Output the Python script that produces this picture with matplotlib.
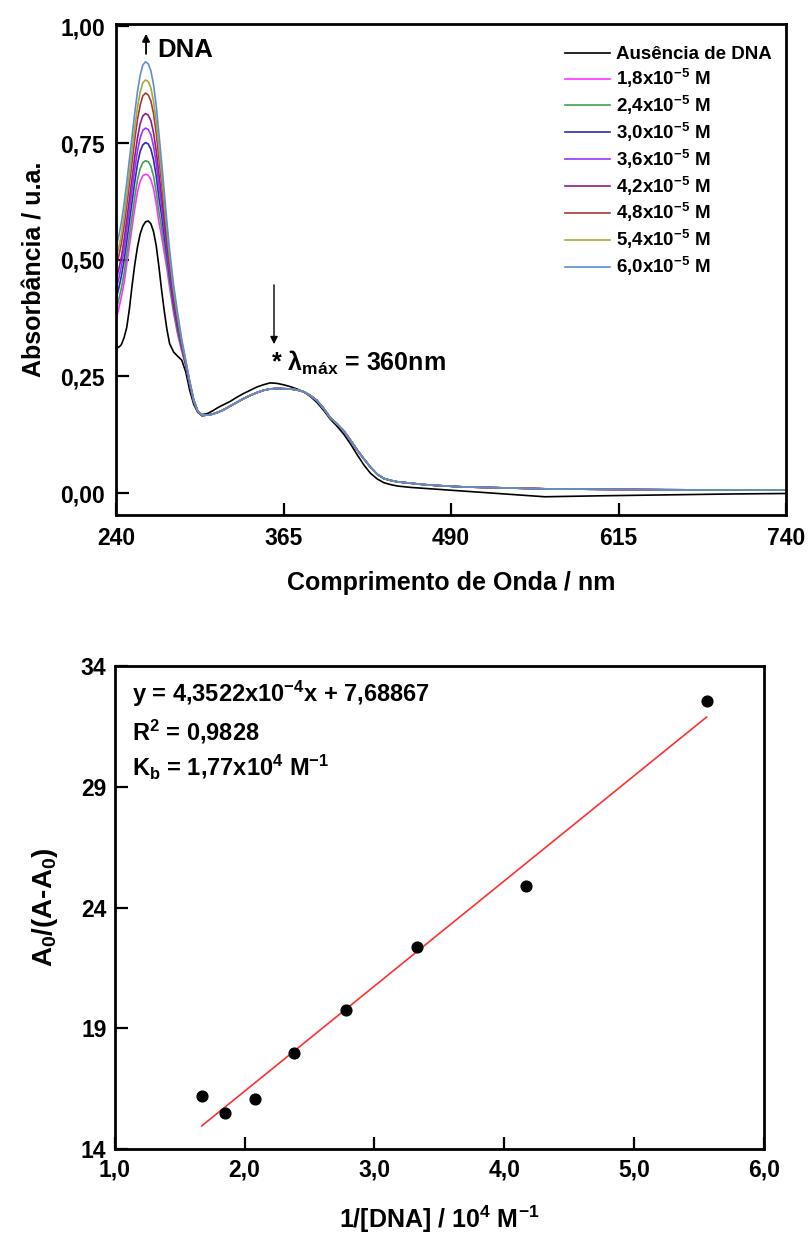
import matplotlib
matplotlib.use("Agg")
import matplotlib.pyplot as plt

plt.rcParams['font.family'] = ['Liberation Sans', 'DejaVu Sans']
plt.rcParams['font.weight'] = 'bold'
plt.rcParams['mathtext.fontset'] = 'custom'
plt.rcParams['mathtext.rm'] = 'Liberation Sans:bold'
plt.rcParams['mathtext.it'] = 'Liberation Sans:bold'
plt.rcParams['mathtext.bf'] = 'Liberation Sans:bold'
plt.rcParams['mathtext.default'] = 'regular'

# ---------------- UV-Vis titration spectra ----------------
wl_uv = [240, 242, 244, 246, 248, 250, 252, 254, 256, 258, 260, 262, 264, 266,
         268, 270, 272, 274, 276, 278, 280, 283, 286, 289, 292, 295, 298, 301, 304]
wl_vis = [308, 312, 316, 320, 325, 330, 335, 340, 345, 350, 355, 360, 365, 370,
          375, 380, 385, 390, 395, 400, 405, 410, 415, 420, 425, 430, 435, 440,
          445, 450, 460, 470, 480, 500, 530, 560, 600, 650, 700, 740]

abs_free_uv = [.316, .312, .318, .333, .355, .395, .445, .490, .527, .555, .572, .581,
               .583, .577, .560, .530, .485, .435, .390, .350, .320, .302, .293, .285,
               .260, .220, .190, .173, .168]
abs_free_vis = [.170, .176, .183, .189, .196, .205, .213, .220, .227, .232, .236, .235,
                .232, .228, .223, .217, .207, .194, .177, .158, .143, .126, .105, .082,
                .060, .042, .030, .022, .018, .015, .012, .010, .008, .004, -.002,
                -.008, -.006, -.004, -.002, -.001]

abs_18_uv = [.371, .395, .420, .450, .490, .530, .570, .610, .645, .668, .680, .683,
             .681, .672, .652, .620, .580, .550, .515, .480, .440, .385, .340, .305,
             .272, .232, .196, .174, .166]
abs_24_uv = [.390, .414, .439, .470, .511, .552, .593, .635, .671, .695, .708, .712,
             .710, .700, .679, .645, .603, .569, .531, .492, .450, .392, .345, .308,
             .274, .233, .196, .174, .166]
abs_30_uv = [.415, .438, .465, .498, .539, .582, .625, .667, .705, .732, .746, .751,
             .748, .737, .714, .679, .633, .595, .551, .508, .462, .402, .353, .312,
             .276, .234, .197, .175, .166]
abs_36_uv = [.436, .459, .486, .520, .562, .606, .650, .694, .733, .761, .777, .782,
             .779, .768, .743, .706, .658, .616, .568, .521, .473, .410, .359, .315,
             .277, .235, .198, .175, .166]
abs_42_uv = [.456, .479, .506, .542, .585, .630, .675, .721, .761, .791, .808, .813,
             .810, .798, .772, .733, .683, .636, .585, .534, .483, .417, .364, .319,
             .279, .236, .198, .175, .166]
abs_48_uv = [.485, .507, .535, .572, .616, .663, .710, .758, .800, .831, .851, .857,
             .853, .840, .813, .771, .717, .665, .609, .552, .498, .428, .372, .323,
             .281, .238, .199, .175, .167]
abs_54_uv = [.504, .525, .554, .593, .637, .685, .734, .782, .826, .859, .879, .885,
             .882, .868, .839, .796, .740, .684, .624, .564, .507, .435, .378, .326,
             .283, .239, .199, .176, .167]
abs_60_uv = [.529, .550, .580, .620, .665, .715, .765, .815, .860, .895, .917, .924,
             .920, .905, .875, .830, .770, .710, .645, .580, .520, .445, .385, .330,
             .285, .240, .200, .176, .167]
# above 305 nm the DNA-containing spectra coincide
abs_dna_vis = [.167, .169, .173, .178, .186, .194, .202, .209, .215, .220, .223, .224,
               .2235, .223, .221, .217, .209, .198, .181, .161, .148, .133, .113, .092,
               .073, .055, .040, .031, .027, .024, .021, .018, .016, .013, .011,
               .009, .008, .007, .0065, .0065]

series_labels = ['Ausência de DNA', '1,8x10$^{-5}$ M', '2,4x10$^{-5}$ M',
                 '3,0x10$^{-5}$ M', '3,6x10$^{-5}$ M', '4,2x10$^{-5}$ M',
                 '4,8x10$^{-5}$ M', '5,4x10$^{-5}$ M', '6,0x10$^{-5}$ M']
series_colors = ['#000000', '#ff33ff', '#3fa34d', '#2a2ab8', '#9a33ff',
                 '#8f1a8f', '#a63a3a', '#a8a83a', '#5a8fd0']
uv_sets = [abs_free_uv, abs_18_uv, abs_24_uv, abs_30_uv, abs_36_uv,
           abs_42_uv, abs_48_uv, abs_54_uv, abs_60_uv]
vis_sets = [abs_free_vis] + [abs_dna_vis] * 8

# ---------------- binding plot ----------------
inv_dna = [5.56, 4.17, 3.33, 2.78, 2.38, 2.08, 1.85, 1.67]      # 10^4 M^-1
a0_ratio = [32.56, 24.89, 22.36, 19.75, 17.99, 16.07, 15.50, 16.21]
fit_slope = 4.3522e-4      # per M^-1
fit_intercept = 7.68867

fig = plt.figure(figsize=(8.08, 12.37), dpi=100)

# ---- top panel ----
ax1 = fig.add_axes([0.1436, 0.5837, 0.8292, 0.3969])
for uv, vis, lab, col in zip(uv_sets, vis_sets, series_labels, series_colors):
    ax1.plot(wl_uv + wl_vis, uv + vis, color=col, lw=1.2, label=lab)

ax1.set_xlim(240, 740)
ax1.set_ylim(-0.047, 1.005)
ax1.set_xticks([240, 365, 490, 615, 740])
ax1.set_xticklabels(['240', '365', '490', '615', '740'])
ax1.set_yticks([0, 0.25, 0.5, 0.75, 1.0])
ax1.set_yticklabels(['0,00', '0,25', '0,50', '0,75', '1,00'])
ax1.tick_params(direction='in', length=9, width=1.6)
ax1.tick_params(axis='y', pad=8, labelsize=16.5)
ax1.tick_params(axis='x', pad=9, labelsize=16.5)
for s in ax1.spines.values():
    s.set_linewidth(2)
ax1.set_xlabel('Comprimento de Onda / nm', fontsize=18, fontweight='bold',
               labelpad=15)
ax1.set_ylabel('Absorbância / u.a.', fontsize=18, fontweight='bold', labelpad=10)

leg = ax1.legend(loc='upper right', bbox_to_anchor=(0.992, 0.974), frameon=False,
                 fontsize=13.5, handlelength=2.35, handletextpad=0.32,
                 labelspacing=0.2, borderpad=0)

ax1.annotate('', xy=(262.4, 0.99), xytext=(262.4, 0.935),
             arrowprops=dict(arrowstyle='-|>', color='black', lw=1.3,
                             mutation_scale=11))
ax1.text(271.0, 0.934, 'DNA', fontsize=18.5, fontweight='bold', va='baseline')
ax1.annotate('', xy=(357.9, 0.313), xytext=(357.9, 0.452),
             arrowprops=dict(arrowstyle='-|>', color='black', lw=1.0,
                             mutation_scale=11))
ax1.text(355.5, 0.262, '* λ$_{máx}$ = 360nm', fontsize=18, fontweight='bold',
         va='baseline')

# ---- bottom panel ----
ax2 = fig.add_axes([0.142, 0.0711, 0.8032, 0.3905])
x_fit = [min(inv_dna), max(inv_dna)]
y_fit = [fit_slope * xv * 1e4 + fit_intercept for xv in x_fit]
ax2.plot(x_fit, y_fit, color='#ff3030', lw=1.2, zorder=2)
ax2.scatter(inv_dna, a0_ratio, s=60, color='black', zorder=3)

ax2.set_xlim(1, 6)
ax2.set_ylim(14, 34)
ax2.set_xticks([1, 2, 3, 4, 5, 6])
ax2.set_xticklabels(['1,0', '2,0', '3,0', '4,0', '5,0', '6,0'])
ax2.set_yticks([14, 19, 24, 29, 34])
ax2.set_yticklabels(['14', '19', '24', '29', '34'])
ax2.tick_params(direction='in', length=9, width=1.6, labelsize=16.5)
ax2.tick_params(axis='y', pad=6)
ax2.tick_params(axis='x', pad=7)
for s in ax2.spines.values():
    s.set_linewidth(2)
ax2.set_xlabel('1/[DNA] / 10$^{4}$ M$^{-1}$', fontsize=18, fontweight='bold',
               labelpad=16)
ax2.set_ylabel('A$_{0}$/(A-A$_{0}$)', fontsize=20, fontweight='bold', labelpad=15)

ax2.text(0.027, 0.925, 'y = 4,3522x10$^{-4}$x + 7,68867', transform=ax2.transAxes,
         fontsize=17, fontweight='bold', va='baseline')
ax2.text(0.027, 0.845, 'R$^{2}$ = 0,9828', transform=ax2.transAxes,
         fontsize=17, fontweight='bold', va='baseline')
ax2.text(0.027, 0.775, 'K$_{b}$ = 1,77x10$^{4}$ M$^{-1}$', transform=ax2.transAxes,
         fontsize=17, fontweight='bold', va='baseline')

fig.savefig('out.png', dpi=100)
